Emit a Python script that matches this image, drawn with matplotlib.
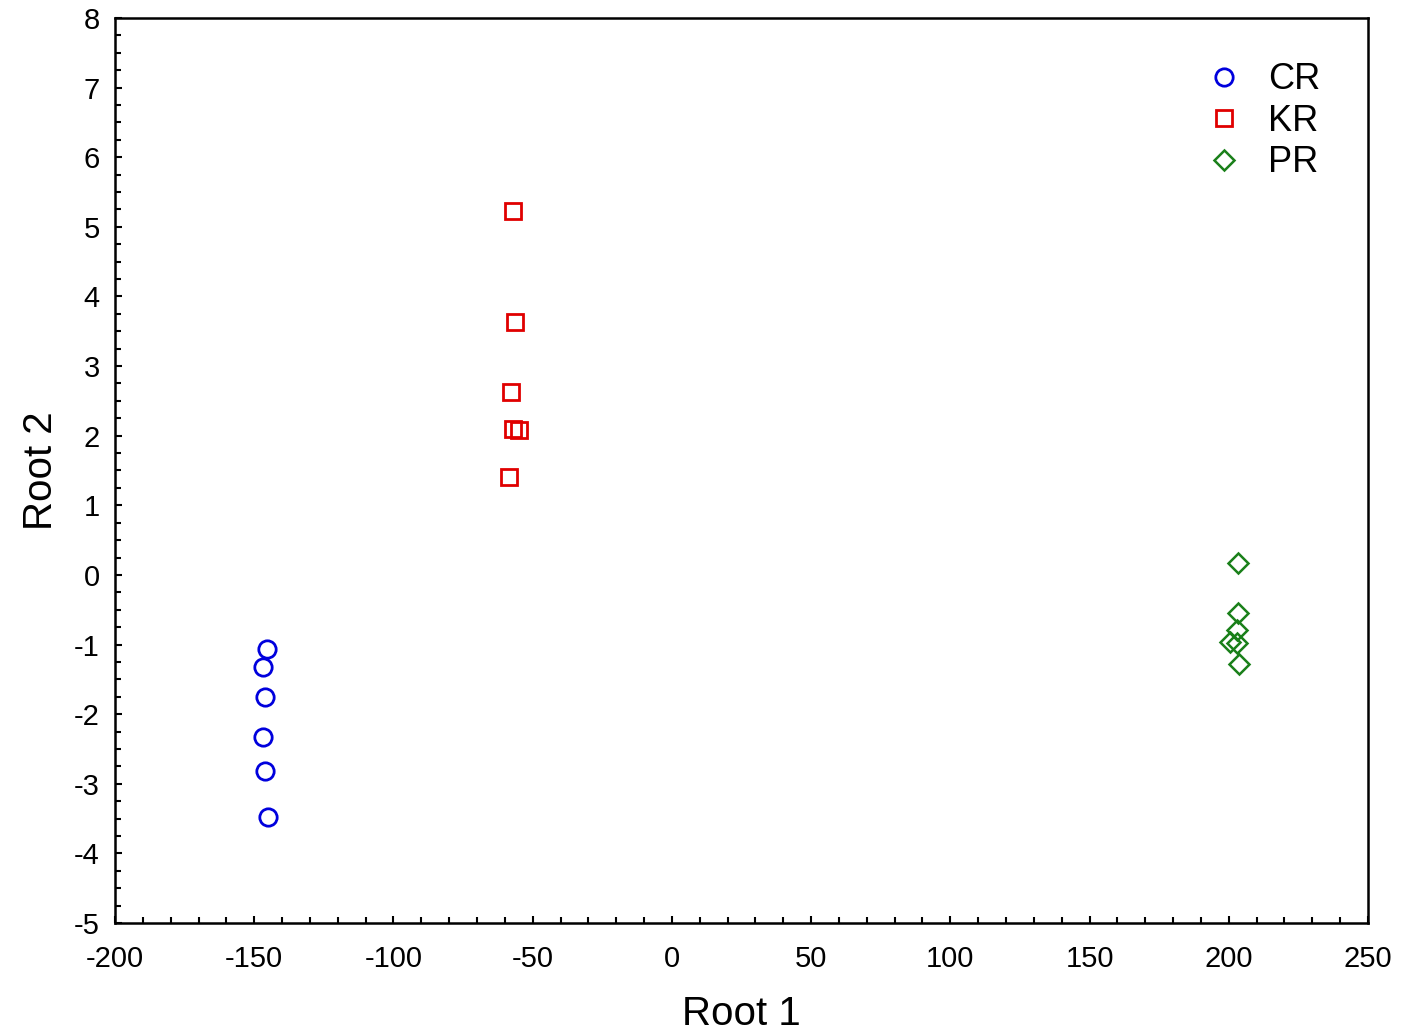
import matplotlib.pyplot as plt
from matplotlib.ticker import MultipleLocator

plt.rcParams['font.family'] = ['Liberation Sans', 'DejaVu Sans']
plt.rcParams['axes.unicode_minus'] = False

# 数据
cr_x = [-145.4, -146.9, -146.2, -146.9, -146.2, -145.1]
cr_y = [-1.06, -1.32, -1.75, -2.33, -2.82, -3.48]
kr_x = [-57.1, -56.4, -57.8, -57.1, -54.9, -58.5]
kr_y = [5.23, 3.63, 2.63, 2.10, 2.08, 1.41]
pr_x = [203.3, 203.3, 202.9, 200.5, 202.9, 203.7]
pr_y = [0.17, -0.55, -0.79, -0.96, -0.98, -1.28]

fig = plt.figure(figsize=(14.03, 10.32), dpi=100)
ax = fig.add_axes([0.082, 0.1056, 0.893, 0.877])

ax.plot(cr_x, cr_y, 'o', ms=12.5, mfc='none', mec='#0000dd', mew=2, label='CR')
ax.plot(kr_x, kr_y, 's', ms=12, mfc='none', mec='#e00000', mew=2, label='KR')
ax.plot(pr_x, pr_y, 'D', ms=10.5, mfc='none', mec='#1a801a', mew=1.8, label='PR')

ax.set_xlim(-200, 250)
ax.set_ylim(-5, 8)
ax.xaxis.set_major_locator(MultipleLocator(50))
ax.xaxis.set_minor_locator(MultipleLocator(10))
ax.yaxis.set_major_locator(MultipleLocator(1))
ax.yaxis.set_minor_locator(MultipleLocator(0.25))
ax.tick_params(which='both', direction='in', labelsize=21, width=1.5)
ax.tick_params(which='major', length=5)
ax.tick_params(axis='x', which='major', pad=16)
ax.tick_params(axis='y', which='major', pad=11)
ax.tick_params(which='minor', length=4)
for s in ax.spines.values():
    s.set_linewidth(1.8)

ax.set_xlabel('Root 1', fontsize=29, labelpad=16)
ax.set_ylabel('Root 2', fontsize=29, labelpad=10)

ax.legend(loc='upper right', frameon=False, fontsize=26, handlelength=1.0,
          handletextpad=0.72, borderpad=0, borderaxespad=0,
          labelspacing=0.18, bbox_to_anchor=(0.962, 0.951))

fig.savefig('out.png', dpi=100)
